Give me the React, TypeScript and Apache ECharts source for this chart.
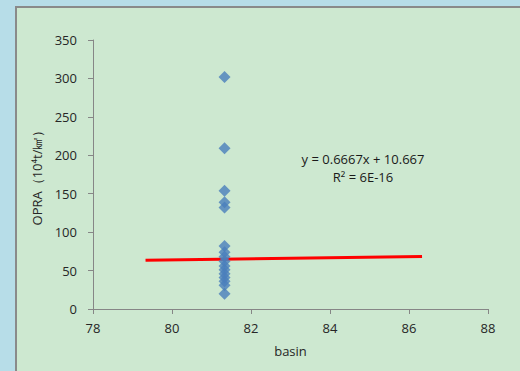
import React, { useEffect, useRef } from "react";
import * as echarts from "echarts";

// Observed OPRA values, all sampled at the same basin position
const basinX: number[] = [81.33, 81.33, 81.33, 81.33, 81.33, 81.33, 81.33, 81.33, 81.33, 81.33, 81.33, 81.33, 81.33, 81.33, 81.33, 81.33];
const opraValues: number[] = [302, 209, 154, 139, 132, 82, 74, 68, 62, 56, 51, 46, 41, 36, 31, 20];

// Linear trend: y = slope * x + intercept, drawn across this x range
const trendSlope = 0.6667;
const trendIntercept = 10.667;
const trendRange: number[] = [79.33, 86.33];

const equationText = "y = 0.6667x + 10.667";
const rSquaredText = "R² = 6E-16";

const FONT = "'Open Sans', 'Noto Sans', sans-serif";

export default function App() {
  const ref = useRef<HTMLDivElement>(null);

  useEffect(() => {
    if (!ref.current) return;
    const chart = echarts.init(ref.current, undefined, { renderer: "svg" });

    const points = basinX.map((x, i) => [x, opraValues[i]]);
    const trend = trendRange.map((x) => [x, trendSlope * x + trendIntercept]);

    chart.setOption({
      animation: false,
      backgroundColor: "#b7dde8",
      graphic: [
        {
          type: "rect",
          z: -10,
          shape: { x: 16, y: 7, width: 520, height: 380 },
          style: { fill: "#cde8d0", stroke: "#8a8a8a", lineWidth: 2 },
          silent: true,
        },
        {
          type: "text",
          x: 363,
          y: 159,
          style: {
            text: equationText,
            fill: "#1a1a1a",
            font: `13px ${FONT}`,
            textAlign: "center",
            textVerticalAlign: "middle",
          },
        },
        {
          type: "text",
          x: 363,
          y: 177,
          style: {
            text: rSquaredText,
            fill: "#1a1a1a",
            font: `13px ${FONT}`,
            textAlign: "center",
            textVerticalAlign: "middle",
          },
        },
      ],
      grid: { left: 93, top: 40, right: 32, bottom: 62 },
      xAxis: {
        type: "value",
        min: 78,
        max: 88,
        interval: 2,
        name: "basin",
        nameLocation: "middle",
        nameGap: 35,
        nameTextStyle: { color: "#262626", fontFamily: FONT, fontSize: 13 },
        axisLine: { show: true, onZero: false, lineStyle: { color: "#868686", width: 1 } },
        axisTick: { show: true, inside: false, length: 5, lineStyle: { color: "#868686" } },
        axisLabel: { color: "#262626", fontFamily: FONT, fontSize: 13, margin: 12 },
        splitLine: { show: false },
      },
      yAxis: {
        type: "value",
        min: 0,
        max: 350,
        interval: 50,
        name: "OPRA（10⁴t/㎢）",
        nameLocation: "middle",
        nameGap: 43,
        nameTextStyle: { color: "#262626", fontFamily: FONT, fontSize: 13 },
        axisLine: { show: true, lineStyle: { color: "#868686", width: 1 } },
        axisTick: { show: true, inside: false, length: 5, lineStyle: { color: "#868686" } },
        axisLabel: { color: "#262626", fontFamily: FONT, fontSize: 13, margin: 16 },
        splitLine: { show: false },
      },
      series: [
        {
          type: "line",
          data: trend,
          symbol: "none",
          lineStyle: { color: "#ff0000", width: 3 },
          z: 2,
        },
        {
          type: "scatter",
          data: points,
          symbol: "diamond",
          symbolSize: 12,
          itemStyle: { color: "#4a7ebb" },
          z: 3,
        },
      ],
    });

    return () => chart.dispose();
  }, []);

  return (
    <div
      ref={ref}
      style={{ position: "fixed", left: 0, top: 0, width: 520, height: 371 }}
    />
  );
}
